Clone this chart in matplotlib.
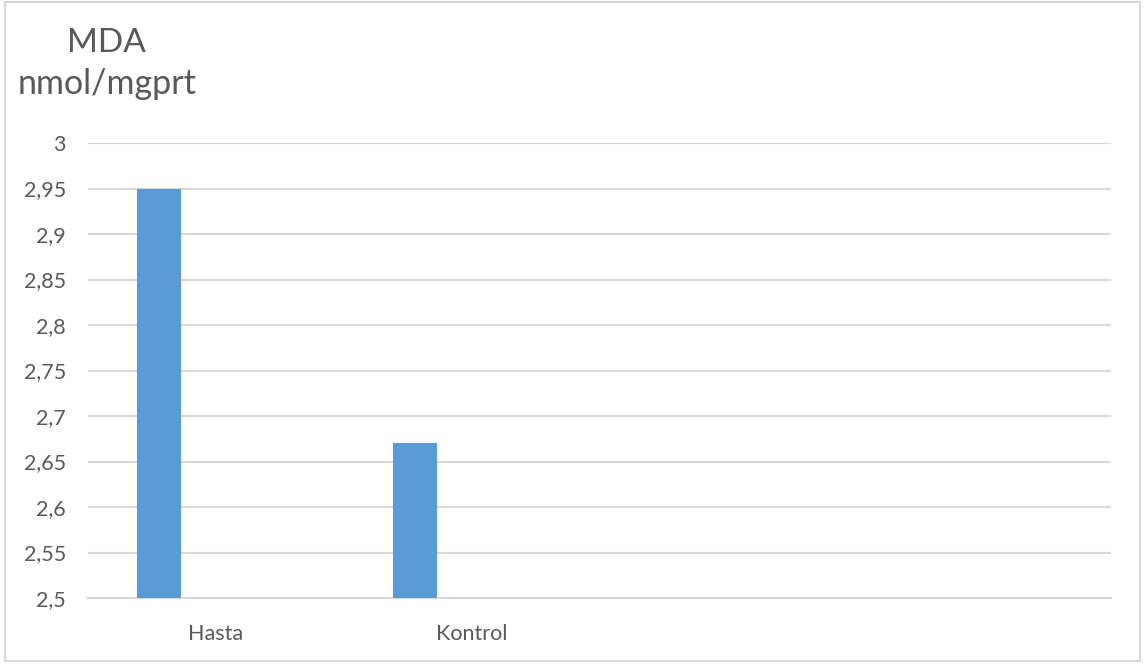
import matplotlib.pyplot as plt
from matplotlib.patches import Rectangle
import numpy as np

categories = ["Hasta", "Kontrol", "", ""]
values = [2.95, 2.67]
yticks = [2.5, 2.55, 2.6, 2.65, 2.7, 2.75, 2.8, 2.85, 2.9, 2.95, 3.0]
ytick_labels = ["2,5", "2,55", "2,6", "2,65", "2,7", "2,75", "2,8", "2,85", "2,9", "2,95", "3"]
title_lines = ["MDA", "nmol/mgprt"]

W, H = 1144, 666
plt.rcParams['font.family'] = ['Lato', 'DejaVu Sans']
fig = plt.figure(figsize=(W / 100, H / 100), dpi=100)

left, right, top, bottom = 88, 1111, 143, 598
ax = fig.add_axes([left / W, 1 - bottom / H, (right - left) / W, (bottom - top) / H])

bar_color = "#5B9BD5"
grid_color = "#D9D9D9"
text_color = "#595959"

x = np.arange(len(values))
ax.bar(x - 0.223, values, width=0.172, color=bar_color, zorder=3)

ax.set_xlim(-0.5, len(categories) - 0.5)
ax.set_ylim(2.5, 3.0)
ax.set_yticks(yticks)
ax.set_yticklabels(ytick_labels, fontsize=15.5, color=text_color)
ax.set_xticks(np.arange(len(categories)))
ax.set_xticklabels(categories, fontsize=15.5, color=text_color)
ax.tick_params(length=0, axis='y', pad=16)
ax.tick_params(length=0, axis='x', pad=19)
ax.grid(axis='y', color=grid_color, linewidth=1.5, zorder=0)
ax.set_axisbelow(True)
for s in ax.spines.values():
    s.set_visible(False)
ax.spines['bottom'].set_visible(True)
ax.spines['bottom'].set_color(grid_color)
ax.spines['bottom'].set_linewidth(1.5)

fig.text(106 / W, 1 - 52 / H, title_lines[0], fontsize=24, color=text_color,
         ha='center', va='baseline')
fig.text(107 / W, 1 - 94 / H, title_lines[1], fontsize=24.5, color=text_color,
         ha='center', va='baseline')

fig.patches.append(Rectangle((5 / W, 1 - 661 / H), 1135 / W, 659 / H,
                             transform=fig.transFigure, fill=False,
                             edgecolor=grid_color, linewidth=1.5))

fig.savefig("out.png", dpi=100, facecolor="white")
